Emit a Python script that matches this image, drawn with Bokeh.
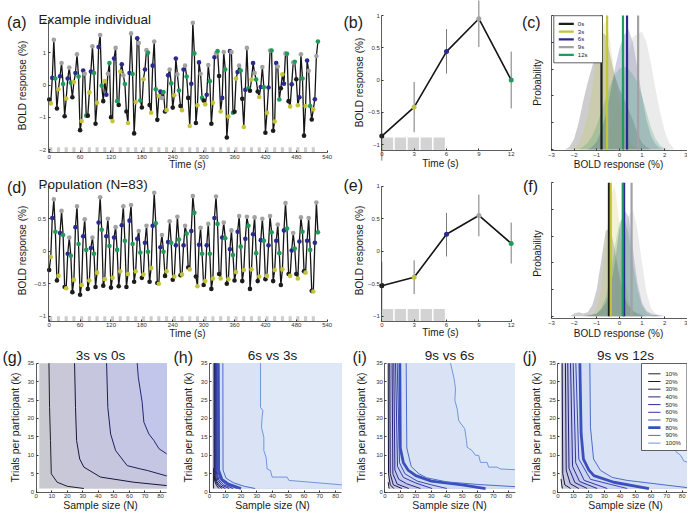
import math
from bokeh.plotting import figure
from bokeh.layouts import column, row
from bokeh.models import Label, Range1d, FixedTicker, LinearAxis
from bokeh.embed import file_html
from bokeh.resources import INLINE

FONT = "Liberation Sans"

# ---------------- data ----------------
EVENT_TIMES = [0, 3, 6, 9, 12]
EVENT_LABELS = ["0s", "3s", "6s", "9s", "12s"]
EVENT_COLORS = ["#1c1c1c", "#c4c43a", "#2a2a8e", "#a2a2a2", "#1f9c5a"]

SAMPLE_TIMES = list(range(0, 525, 3))
BLOCK_STARTS = list(range(0, 525, 15))
BLOCK_LEN = 6
FLASH_STARTS = [0, 1.2, 2.4, 3.6, 4.8]
FLASH_LEN = 1.05

indiv_series = [
    -0.45, -0.57, 0.22, 1.40, 0.20,
    -0.73, -0.13, 0.27, 0.68, 0.03,
    -0.97, -0.42, 0.20, 0.54, 0.07,
    -0.38, 0.09, 0.37, 0.95, 0.26,
    -1.40, -1.12, 0.45, 0.35, -0.95,
    -0.95, -0.23, 0.42, 1.20, 0.37,
    -1.20, -0.55, 1.18, 1.55, -0.02,
    -0.50, 0.12, -0.30, 0.35, 0.68,
    -1.00, -1.12, 0.82, 1.15, -0.50,
    -0.62, 0.42, 0.64, 0.30, 0.03,
    -0.82, -1.18, 0.37, 1.60, 0.34,
    -1.50, -0.53, 1.45, 1.30, -0.48,
    -0.70, 0.18, 0.48, 1.08, 1.00,
    -0.62, -0.86, 0.60, 1.35, -0.13,
    -1.08, -0.34, -0.20, -0.40, -0.22,
    -0.82, -0.78, 0.30, 0.48, 0.05,
    -0.70, -0.32, 0.82, 0.33, -0.17,
    -0.65, -0.78, 0.48, 0.60, 0.26,
    -0.40, -1.27, 0.04, 1.93, 0.98,
    -1.18, -0.63, 0.70, 0.35, -0.40,
    -0.48, -0.60, -0.30, 0.62, 0.12,
    -1.20, -0.55, 0.86, 0.98, 1.05,
    0.28, -0.82, -0.40, 1.02, 0.48,
    -1.63, -0.98, 1.05, 1.02, -0.86,
    -0.83, 0.20, 0.40, 0.60, 0.45,
    -0.43, -1.30, -0.15, 1.15, -0.10,
    -0.18, 0.17, 0.68, 0.37, 0.17,
    -0.20, -0.37, -0.06, 0.56, -0.07,
    -1.48, -0.86, -0.08, 1.07, 1.07,
    -1.42, -1.13, 0.68, 0.57, -0.45,
    -0.10, 0.33, 0.04, 0.98, 0.97,
    -0.50, -0.67, 0.02, 0.70, 0.72,
    0.18, -0.63, -0.38, 0.95, 0.20,
    -1.57, -0.65, 0.76, 0.44, -0.65,
    -1.07, -0.75, -0.44, 0.90, 1.35,
]

pop_series = [
    -0.29, -0.09, 0.51, 0.80, 0.30,
    -0.45, -0.38, 0.28, 0.62, 0.25,
    -0.55, -0.57, -0.04, 0.21, -0.07,
    -0.63, -0.44, 0.37, 0.69, 0.11,
    -0.67, -0.52, 0.23, 0.49, 0.02,
    -0.58, -0.45, 0.05, 0.21, -0.04,
    -0.55, -0.33, 0.44, 0.83, 0.33,
    -0.53, -0.43, 0.23, 0.50, 0.08,
    -0.56, -0.41, 0.21, 0.37, 0.02,
    -0.54, -0.31, 0.40, 0.69, 0.16,
    -0.55, -0.35, 0.47, 0.71, 0.11,
    -0.47, -0.31, 0.19, 0.31, -0.02,
    -0.41, -0.36, 0.13, 0.39, -0.01,
    -0.47, -0.26, 0.39, 0.90, 0.43,
    -0.49, -0.50, 0.06, 0.25, -0.01,
    -0.38, -0.31, 0.14, 0.46, 0.13,
    -0.44, -0.39, 0.09, 0.53, 0.18,
    -0.37, -0.36, 0.09, 0.39, 0.27,
    -0.25, -0.28, 0.31, 0.85, 0.59,
    -0.39, -0.54, 0.10, 0.36, -0.04,
    -0.52, -0.46, 0.09, 0.42, -0.04,
    -0.58, -0.42, 0.51, 0.84, 0.42,
    -0.35, -0.42, 0.21, 0.44, 0.20,
    -0.50, -0.43, 0.03, 0.32, -0.06,
    -0.45, -0.32, 0.30, 0.54, 0.07,
    -0.46, -0.29, 0.19, 0.53, 0.39,
    -0.58, -0.28, 0.26, 0.52, -0.03,
    -0.46, -0.39, 0.17, 0.50, 0.16,
    -0.43, -0.38, 0.09, 0.54, 0.29,
    -0.46, -0.29, 0.16, 0.41, -0.03,
    -0.52, -0.28, 0.32, 0.74, 0.35,
    -0.35, -0.38, 0.01, 0.28, 0.04,
    -0.35, -0.42, 0.15, 0.52, 0.30,
    -0.31, -0.33, 0.16, 0.51, 0.02,
    -0.61, -0.62, 0.13, 0.75, 0.29,
]

indiv_mean = [-0.87, -0.42, 0.44, 0.95, 0.00]
indiv_lo = [-1.25, -0.81, 0.10, 0.51, -0.44]
indiv_hi = [-0.50, -0.03, 0.79, 1.39, 0.44]

pop_mean = [-0.53, -0.40, 0.26, 0.55, 0.12]
pop_lo = [-0.90, -0.66, -0.08, 0.23, -0.19]
pop_hi = [-0.16, -0.14, 0.59, 0.87, 0.44]

DENS_X = [-2.4, -2.2, -2.0, -1.8, -1.6, -1.4, -1.2, -1.0, -0.8, -0.6, -0.4, -0.2, 0.0,
          0.2, 0.4, 0.6, 0.8, 1.0, 1.2, 1.4, 1.6, 1.8, 2.0, 2.2, 2.4]
indiv_dens = [
    [0, 0.02, 0.08, 0.20, 0.36, 0.50, 0.62, 0.75, 0.88, 0.85, 0.70, 0.55, 0.45, 0.38, 0.30, 0.22, 0.12, 0.05, 0.02, 0, 0, 0, 0, 0, 0],
    [0, 0, 0.01, 0.04, 0.12, 0.25, 0.45, 0.70, 0.90, 0.96, 0.80, 0.55, 0.35, 0.18, 0.08, 0.03, 0.01, 0, 0, 0, 0, 0, 0, 0, 0],
    [0, 0, 0, 0, 0, 0, 0.02, 0.06, 0.14, 0.26, 0.42, 0.60, 0.75, 0.85, 0.90, 0.80, 0.60, 0.40, 0.22, 0.10, 0.04, 0.01, 0, 0, 0],
    [0, 0, 0, 0, 0, 0, 0, 0.01, 0.03, 0.07, 0.14, 0.24, 0.38, 0.55, 0.72, 0.84, 0.86, 0.88, 0.80, 0.64, 0.45, 0.28, 0.14, 0.05, 0.01],
    [0, 0, 0, 0, 0.02, 0.05, 0.10, 0.18, 0.28, 0.38, 0.48, 0.56, 0.60, 0.62, 0.60, 0.56, 0.50, 0.40, 0.28, 0.16, 0.08, 0.03, 0.01, 0, 0],
]
pop_dens = [
    [0, 0, 0.02, 0.03, 0.02, 0.03, 0.08, 0.20, 0.42, 0.64, 0.66, 0.50, 0.30, 0.15, 0.08, 0.04, 0.02, 0.01, 0, 0, 0.01, 0, 0, 0, 0],
    [0, 0, 0, 0, 0, 0, 0.01, 0.05, 0.20, 0.55, 0.90, 0.98, 0.70, 0.35, 0.12, 0.04, 0.01, 0, 0, 0, 0, 0, 0, 0, 0],
    [0, 0, 0, 0, 0, 0.01, 0.01, 0.02, 0.05, 0.10, 0.20, 0.40, 0.65, 0.80, 0.75, 0.50, 0.25, 0.10, 0.04, 0.02, 0.01, 0.01, 0, 0, 0],
    [0, 0, 0, 0, 0, 0, 0, 0.01, 0.02, 0.05, 0.10, 0.20, 0.35, 0.55, 0.75, 0.80, 0.65, 0.40, 0.18, 0.06, 0.02, 0, 0, 0, 0],
    [0, 0, 0, 0, 0, 0, 0.01, 0.02, 0.06, 0.14, 0.30, 0.52, 0.70, 0.75, 0.62, 0.40, 0.20, 0.08, 0.03, 0.01, 0, 0, 0, 0, 0],
]
indiv_centre = [-0.79, -0.54, 0.34, 0.83, 0.16]
pop_centre = [-0.46, -0.38, 0.21, 0.54, 0.15]

LEVELS = [10, 20, 30, 40, 50, 60, 70, 80, 90, 100]
LEVEL_LABELS = ["10%", "20%", "30%", "40%", "50%", "60%", "70%", "80%", "90%", "100%"]
LEVEL_COLORS = ["#202028", "#161640", "#1e1e5a", "#262678", "#2c2c90", "#3438a4",
                "#3c48b4", "#3a50bc", "#4a6ccc", "#7096dc"]
LEVEL_WIDTHS = [1, 1, 1, 1, 1, 1, 1, 2.8, 1, 1]
FILL_BASE = "#c9c9d2"
LEVEL_FILLS = ["#c8c8d8", "#c6c7de", "#c4c6e4", "#c2c6ea", "#c6cdee", "#cbd4f0",
               "#d0daf2", "#d5dff4", "#d9e3f5", "#dee8f7"]

contours_g = {
    10: ([8.2, 8.6, 9.2, 9.7, 13.5, 20.0, 30.7], [35, 23, 14, 5, 2.7, 1.6, 1.0]),
    20: ([24.7, 25.3, 26.0, 28.0, 30.7, 41.4, 62.9, 84.0], [35, 23, 14, 9, 6.8, 4.1, 2.7, 1.8]),
    30: ([45.3, 46.1, 47.9, 51.1, 58.6, 67.2, 71.5, 84.0], [35, 23, 15.8, 11.3, 7.2, 6.3, 5.9, 4.4]),
    40: ([65.0, 65.7, 68.2, 69.3, 72.5, 75.8, 79.0, 84.0], [35, 31.2, 24.4, 19.0, 15.8, 14.0, 11.8, 10.4]),
}
contours_h = {
    10: ([2.5, 2.5, 2.6], [6.5, 2.0, 1.0]),
    20: ([2.9, 2.9, 3.3, 4.5, 6.0], [35, 6, 3, 1.8, 1]),
    30: ([3.3, 3.3, 3.9, 5.5, 8.0], [35, 6, 3, 1.8, 1]),
    40: ([3.7, 3.7, 4.5, 6.5, 10.0], [35, 6, 3, 1.8, 1]),
    50: ([4.1, 4.2, 5.2, 7.8, 12.5], [35, 6, 3.2, 1.9, 1]),
    60: ([4.5, 4.6, 5.9, 9.0, 15.0], [35, 6, 3.3, 2.0, 1]),
    70: ([5.0, 5.1, 6.8, 10.5, 17.5], [35, 6, 3.4, 2.1, 1]),
    80: ([5.6, 5.8, 7.8, 12.0, 20.0], [35, 6, 3.5, 2.2, 1]),
    90: ([8.5, 8.6, 10.5, 15.0, 22.0, 29.0], [35, 6, 3.8, 2.6, 1.6, 1]),
    100: ([32.4, 32.4, 33.9, 33.4, 33.0, 34.5, 34.5, 35.9, 36.6, 38.7, 39.8, 49.3, 50.4, 84.0],
          [35, 23, 22.2, 20.3, 17.6, 14.9, 11.3, 9.5, 6.3, 5.9, 4.1, 4.1, 3.2, 2.0]),
}
contours_i = {
    10: ([2.2, 2.5, 2.8], [2.7, 1.6, 1]),
    20: ([2.2, 2.4, 3.5, 5.8], [35, 5, 2, 1]),
    30: ([3.2, 3.5, 5.5, 11.0], [35, 5, 2, 1]),
    40: ([4.7, 5.2, 8.0, 15.5], [35, 5, 2.2, 1]),
    50: ([5.8, 6.5, 9.0, 14.0, 23.0], [35, 6, 3.5, 2.3, 1]),
    60: ([6.9, 8.2, 12.0, 20.0, 30.5], [35, 7, 4, 2.5, 1]),
    70: ([8.0, 9.5, 13.0, 21.0, 30.0, 40.0], [35, 8, 5, 3, 2, 1]),
    80: ([9.7, 10.0, 12.0, 15.0, 20.0, 30.0, 50.0, 65.0], [35, 12, 8, 6, 4.5, 3, 2, 1]),
    90: ([13.8, 14.2, 17.0, 22.0, 27.0, 40.0, 60.0, 84.0], [35, 12, 7, 5, 3.9, 2.8, 2.1, 1.5]),
    100: ([42.4, 44.5, 45.2, 45.6, 45.2, 46.7, 47.7, 51.6, 52.7, 53.1, 56.3, 58.5, 60.6, 61.7, 66.0, 67.0, 72.4, 74.6, 84.0],
          [35, 31.2, 29.4, 28, 24.9, 22.6, 19.4, 17.2, 14, 12.2, 11.3, 10, 10, 8.1, 8.1, 6.8, 6.8, 6.3, 6.1]),
}
contours_j = {
    10: ([2.1, 2.5, 3.0], [3.6, 2, 1]),
    20: ([2.8, 3.2, 4.5, 8.2], [35, 5, 2, 1]),
    30: ([4.9, 5.4, 8.0, 13.5], [35, 6, 2.3, 1]),
    40: ([6.4, 7.2, 11.0, 18.9], [35, 6.5, 2.6, 1]),
    50: ([8.2, 9.5, 14.0, 25.3], [35, 7, 2.9, 1]),
    60: ([9.9, 11.5, 17.0, 31.8], [35, 8, 3.2, 1]),
    70: ([11.6, 13.5, 21.0, 44.6], [35, 9, 3.5, 1]),
    80: ([14.2, 15.0, 16.5, 20.0, 23.2, 36.0, 58.6], [35, 16, 9, 6, 4.5, 2.7, 1]),
    90: ([20.6, 21.0, 23.0, 27.5, 35.0, 44.6, 84.0], [35, 17.6, 9, 5.9, 4, 3.2, 1.2]),
    100: ([62.0, 66.0, 70.0, 74.0, 76.0, 79.0, 81.0, 84.0], [35, 28, 22, 15, 11, 10, 8.5, 8]),
}
N_MIN, N_MAX, K_MIN, K_MAX = 2, 84, 1, 35

# ---------------- helpers ----------------
AX = "#333333"


def val_at(v1, p1, v2, p2, px):
    return v1 + (px - p1) * (v2 - v1) / (p2 - p1)


class Panel:
    """A figure whose frame fills its whole canvas; axes are pinned inside it."""

    def __init__(self, box, xcal, ycal):
        self.L, self.T, self.R, self.B = box
        self.xcal, self.ycal = xcal, ycal
        xr = Range1d(val_at(*xcal, self.L), val_at(*xcal, self.R))
        yr = Range1d(val_at(*ycal, self.B), val_at(*ycal, self.T))
        self.p = figure(width=self.R - self.L, height=self.B - self.T, x_range=xr, y_range=yr,
                        x_axis_location=None, y_axis_location=None, title=None,
                        min_border=0, min_border_left=0, min_border_right=0,
                        min_border_top=0, min_border_bottom=0,
                        output_backend="svg", toolbar_location=None, tools="")
        p = self.p
        p.outline_line_color = None
        p.xgrid.visible = False
        p.ygrid.visible = False
        p.background_fill_color = "white"
        p.border_fill_color = "white"

    def xv(self, px):
        return val_at(*self.xcal, px)

    def yv(self, py):
        return val_at(*self.ycal, py)

    def axes(self, x_at, y_at, xbounds, ybounds, xticks, yticks, ylabels=True):
        for side, loc, bnd, ticks in (("below", x_at, xbounds, xticks), ("left", y_at, ybounds, yticks)):
            ax = LinearAxis(fixed_location=loc, bounds=bnd, ticker=FixedTicker(ticks=ticks))
            ax.axis_line_color = AX
            ax.axis_line_width = 0.8
            ax.major_tick_line_color = AX
            ax.major_tick_in = 2
            ax.major_tick_out = 0
            ax.minor_tick_line_color = None
            ax.major_label_text_font = FONT
            ax.major_label_text_font_size = "6px"
            ax.major_label_text_color = "#333333"
            ax.major_label_standoff = 2
            if side == "left" and not ylabels:
                ax.major_label_overrides = {t: "" for t in ticks}
            self.p.add_layout(ax, side)

    def text(self, px, py, text, size, align="left", baseline="alphabetic", angle=0.0, color="#1a1a1a"):
        self.p.add_layout(Label(x=px - self.L, y=self.B - py, x_units="screen", y_units="screen",
                                text=text, text_font=FONT, text_font_size=f"{size}px",
                                text_align=align, text_baseline=baseline, angle=angle,
                                text_color=color))

    def key(self, box, first_row, row_step, glyph_span, label_left, labels, colors, widths):
        """Legend box drawn at pixel positions (converted through the panel's scales)."""
        l, t, r, b = box
        self.p.quad(left=self.xv(l), right=self.xv(r), top=self.yv(t), bottom=self.yv(b),
                    fill_color="white", line_color="#3a3a3a", line_width=0.8)
        for i, (lab, c, w) in enumerate(zip(labels, colors, widths)):
            py = first_row + i * row_step
            self.p.segment(x0=self.xv(glyph_span[0]), y0=self.yv(py), x1=self.xv(glyph_span[1]),
                           y1=self.yv(py), line_color=c, line_width=w)
            self.text(label_left, py, lab, 6, "left", "middle", color="#222222")


def ts_panel(box, series, ycal, xaxis_py, block_top, yticks):
    P = Panel(box, (0, 48.7, 540, 326.7), ycal)
    p = P.p
    x0 = P.xv(47.5)
    y0 = P.yv(xaxis_py)
    P.axes(y0, x0, (x0, 540), (y0, yticks[-1]), list(range(0, 541, 60)), yticks)
    p.quad(left=BLOCK_STARTS, right=[b + BLOCK_LEN for b in BLOCK_STARTS], bottom=y0, top=block_top,
           fill_color="#cdcdcd", line_color=None)
    p.line(SAMPLE_TIMES, series, line_color="#151515", line_width=1.3)
    cols = [EVENT_COLORS[i % 5] for i in range(len(series))]
    p.scatter(SAMPLE_TIMES, series, size=4.6, fill_color=cols, line_color=None)
    return P


def err_panel(box, mean, lo, hi, ycal, xaxis_py, block_top):
    P = Panel(box, (0, 381.3, 12, 510.7), ycal)
    p = P.p
    y0 = P.yv(xaxis_py)
    P.axes(y0, 0, (0, 12), (y0, 1), EVENT_TIMES, [-1, -0.5, 0, 0.5, 1])
    p.quad(left=FLASH_STARTS, right=[f + FLASH_LEN for f in FLASH_STARTS], bottom=y0, top=block_top,
           fill_color="#d3d3d3", line_color=None)
    p.segment(x0=EVENT_TIMES, y0=lo, x1=EVENT_TIMES, y1=hi, line_color="#7a7a7a", line_width=1)
    p.line(EVENT_TIMES, mean, line_color="#151515", line_width=1.6)
    p.scatter(EVENT_TIMES, mean, size=5, fill_color=EVENT_COLORS, line_color=None)
    return P


def dens_panel(box, dens, centres, ycal, xaxis_py, with_key):
    P = Panel(box, (-3, 551, 3, 686.7), ycal)
    p = P.p
    y0 = P.yv(xaxis_py)
    P.axes(y0, -3, (-3, 3), (y0, 1), [-3, -2, -1, 0, 1, 2, 3], [0, 0.2, 0.4, 0.6, 0.8, 1.0], ylabels=False)
    for d, c in zip(dens, EVENT_COLORS):
        p.varea(x=DENS_X, y1=[0] * len(DENS_X), y2=d, fill_color=c, fill_alpha=0.22)
    for m, c in zip(centres, EVENT_COLORS):
        p.line([m, m], [0, 1], line_color=c, line_width=2.2)
    if with_key:
        P.key((553.3, 15.2, 602.0, 62.3), 23.3, 7.75, (558.3, 573.3), 577.3,
              EVENT_LABELS, EVENT_COLORS, [2.2] * 5)
    return P


def region(ns, ks):
    xs = list(ns)
    ys = list(ks)
    if ys[0] < K_MAX:
        xs = [N_MIN, N_MIN] + xs
        ys = [K_MAX, ys[0]] + ys
    if xs[-1] < N_MAX - 0.01:
        xs += [N_MAX, N_MAX]
        ys += [K_MIN, K_MAX]
    else:
        xs += [N_MAX]
        ys += [K_MAX]
    return xs, ys


def power_panel(box, x0px, x80px, contours, with_key):
    P = Panel(box, (0, x0px, 80, x80px), (0, 491.7, 35, 362.7))
    p = P.p
    P.axes(0, 0, (0, 84), (0, 35), list(range(0, 81, 10)), list(range(0, 36, 5)))
    p.quad(left=N_MIN, right=N_MAX, bottom=K_MIN, top=K_MAX, fill_color=FILL_BASE, line_color=None)
    for lev, fc in zip(LEVELS, LEVEL_FILLS):
        if lev in contours:
            xs, ys = region(*contours[lev])
            p.patch(xs, ys, fill_color=fc, line_color=None)
    for lev, col, lw in zip(LEVELS, LEVEL_COLORS, LEVEL_WIDTHS):
        if lev in contours:
            ns, ks = contours[lev]
            p.line(ns, ks, line_color=col, line_width=lw)
    if with_key:
        P.key((641.0, 363.0, 686.4, 450.0), 373.3, 7.7, (647.7, 660.0), 665.0,
              LEVEL_LABELS, LEVEL_COLORS, LEVEL_WIDTHS)
    return P


ROT = math.pi / 2
LETTER = 16
SUB = 13.5
AXL = 10

# ---------------- row 1 ----------------
A = ts_panel((0, 0, 342, 170), indiv_series, (2, 20, -2, 149), 152, -1.93, [-2, -1, 0, 1, 2])
A.text(6.5, 22, "(a)", LETTER)
A.text(38, 18.5, "Example individual", SUB)
A.text(21.5, 85, "BOLD response (%)", AXL, "center", "middle", ROT)
A.text(187, 164.3, "Time (s)", AXL, "center", "middle")

B = err_panel((342, 0, 518, 170), indiv_mean, indiv_lo, indiv_hi, (1, 15, -1, 144), 149.7, -0.89)
B.text(343, 22, "(b)", LETTER)
B.text(359, 82, "BOLD response (%)", AXL, "center", "middle", ROT)
B.text(440, 162.5, "Time (s)", AXL, "center", "middle")

C = dens_panel((518, 0, 687, 170), indiv_dens, indiv_centre, (1, 15, 0, 149), 150, True)
C.text(521.5, 22, "(c)", LETTER)
C.text(536.7, 82, "Probability", AXL, "center", "middle", ROT)
C.text(618, 164, "BOLD response (%)", AXL, "center", "middle")

# ---------------- row 2 ----------------
D = ts_panel((0, 170, 342, 340), pop_series, (1, 185.7, -1, 315.7), 320.7, -1.0, [-1, -0.5, 0, 0.5, 1])
D.text(6.5, 187, "(d)", LETTER)
D.text(38, 183.5, "Population (N=83)", SUB)
D.text(21.5, 250, "BOLD response (%)", AXL, "center", "middle", ROT)
D.text(187, 333, "Time (s)", AXL, "center", "middle")

E = err_panel((342, 170, 518, 340), pop_mean, pop_lo, pop_hi, (1, 185.7, -1, 315.7), 320.7, -0.89)
E.text(343, 185, "(e)", LETTER)
E.text(359, 250, "BOLD response (%)", AXL, "center", "middle", ROT)
E.text(440, 332, "Time (s)", AXL, "center", "middle")

F = dens_panel((518, 170, 687, 340), pop_dens, pop_centre, (1, 182.3, 0, 315.7), 318, False)
F.text(522.5, 186, "(f)", LETTER)
F.text(536.7, 253, "Probability", AXL, "center", "middle", ROT)
F.text(618, 333, "BOLD response (%)", AXL, "center", "middle")

# ---------------- row 3 ----------------
G = power_panel((0, 340, 172, 514), 35.7, 160.0, contours_g, False)
H = power_panel((172, 340, 346, 514), 209.0, 335.0, contours_h, False)
I = power_panel((346, 340, 518, 514), 384.3, 508.3, contours_i, False)
J = power_panel((518, 340, 687, 514), 557.3, 681.7, contours_j, True)
bottom_specs = [
    (G, "(g)", 2, "3s vs 0s", 100, 14),
    (H, "(h)", 173, "6s vs 3s", 272, 187.5),
    (I, "(i)", 352, "9s vs 6s", 449, 360),
    (J, "(j)", 522, "9s vs 12s", 625, 535),
]
for P, letter, lx, title, tx, ylx in bottom_specs:
    P.text(lx, 357, letter, LETTER)
    P.text(tx, 355, title, 13.5, "center")
    P.text(ylx, 427, "Trials per participant (k)", 10.5, "center", "middle", ROT)
    P.text(tx, 504.5, "Sample size (N)", 10.5, "center", "middle")

layout = column(row(A.p, B.p, C.p), row(D.p, E.p, F.p), row(G.p, H.p, I.p, J.p))
open("out.html", "w").write(file_html(layout, INLINE))
